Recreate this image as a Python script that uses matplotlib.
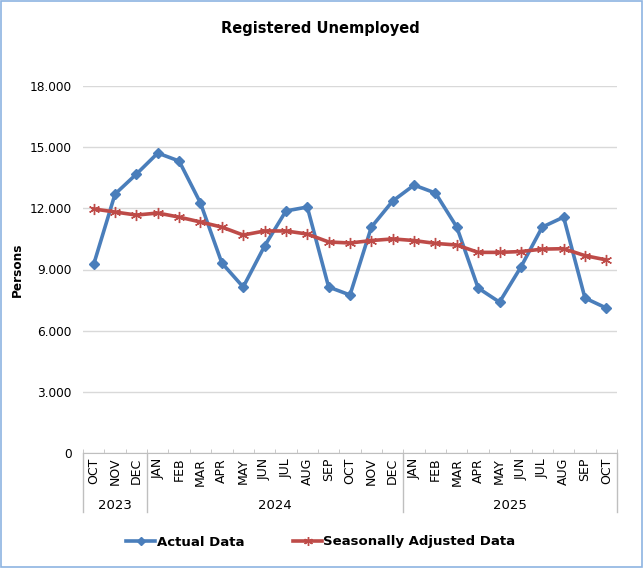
import matplotlib.pyplot as plt
from matplotlib.patches import Rectangle
from matplotlib.ticker import FuncFormatter, FixedLocator
import matplotlib.transforms as mtransforms
import numpy as np

months = ['OCT', 'NOV', 'DEC',
          'JAN', 'FEB', 'MAR', 'APR', 'MAY', 'JUN', 'JUL', 'AUG', 'SEP', 'OCT', 'NOV', 'DEC',
          'JAN', 'FEB', 'MAR', 'APR', 'MAY', 'JUN', 'JUL', 'AUG', 'SEP', 'OCT']
years = ['2023', '2024', '2025']
year_counts = [3, 12, 10]

actual = [9250, 12700, 13680, 14710, 14320, 12260, 9320, 8140, 10150, 11870, 12065, 8140,
          7750, 11080, 12360, 13140, 12750, 11080, 8090, 7400, 9120, 11080, 11570, 7600, 7110]
seasonal = [11970, 11820, 11670, 11770, 11570, 11330, 11080, 10690, 10890, 10890, 10740, 10350,
            10300, 10420, 10500, 10420, 10280, 10200, 9840, 9840, 9880, 10000, 10020, 9680, 9470]

blue = '#4A7EBB'
red = '#BE4B48'

fig = plt.figure(figsize=(6.43, 5.68), dpi=100)
ax = fig.add_axes([83/643, 1-453/568, 534/643, 367/568])

x = np.arange(len(months))
ax.plot(x, actual, c=blue, lw=2.6, marker='D', ms=5.5, label='Actual Data', zorder=3)
ax.plot(x, seasonal, c=red, lw=2.6, marker=(6, 2, 0), ms=8, mew=1.0, label='Seasonally Adjusted Data', zorder=3)

ax.set_xlim(-0.5, len(months) - 0.5)
ax.set_ylim(0, 18000)
ax.set_yticks(np.arange(0, 18001, 3000))
ax.yaxis.set_major_formatter(FuncFormatter(lambda v, p: '{:,.0f}'.format(v).replace(',', '.')))
ax.tick_params(axis='y', length=0, labelsize=8.7, pad=8)
ax.grid(axis='y', color='#D9D9D9', lw=1)
ax.set_axisbelow(True)

for s in ['top', 'right', 'left']:
    ax.spines[s].set_visible(False)
ax.spines['bottom'].set_color('#BFBFBF')

# category axis: month ticks and year groups
ax.set_xticks([])
ax.xaxis.set_minor_locator(FixedLocator(np.arange(-0.5, len(months), 1)))
ax.tick_params(axis='x', which='minor', direction='in', length=3, color='#BFBFBF')

trans = mtransforms.blended_transform_factory(ax.transData, ax.transAxes)
for i, m in enumerate(months):
    ax.text(i, -0.013, m, rotation=90, ha='center', va='top', fontsize=9, transform=trans)

start = -0.5
bounds = [start]
for yr, n in zip(years, year_counts):
    ax.text(start + n / 2, -0.142, yr, ha='center', va='center', fontsize=9.5, transform=trans)
    start += n
    bounds.append(start)
for b in bounds:
    ax.plot([b, b], [0, -0.161], color='#BFBFBF', lw=1, transform=trans, clip_on=False)

ax.set_ylabel('Persons', fontsize=8.7, fontweight='bold')
ax.yaxis.set_label_coords(-(83 - 24) / 534, 0.5)
fig.text(320/643, 1-28/568, 'Registered Unemployed', ha='center', va='center',
         fontsize=10.5, fontweight='bold')

leg = fig.legend(loc='center', bbox_to_anchor=(321/643, 1-542/568), ncol=2, frameon=False,
                 prop={'weight': 'bold', 'size': 9.5}, handlelength=2.2, columnspacing=3.7,
                 handletextpad=0.1, markerscale=0.8)

fig.patches.append(Rectangle((0.002, 0.002), 0.996, 0.996, transform=fig.transFigure,
                             fill=False, edgecolor='#8DB4E2', lw=1.2))

plt.savefig('out.png', dpi=100)
